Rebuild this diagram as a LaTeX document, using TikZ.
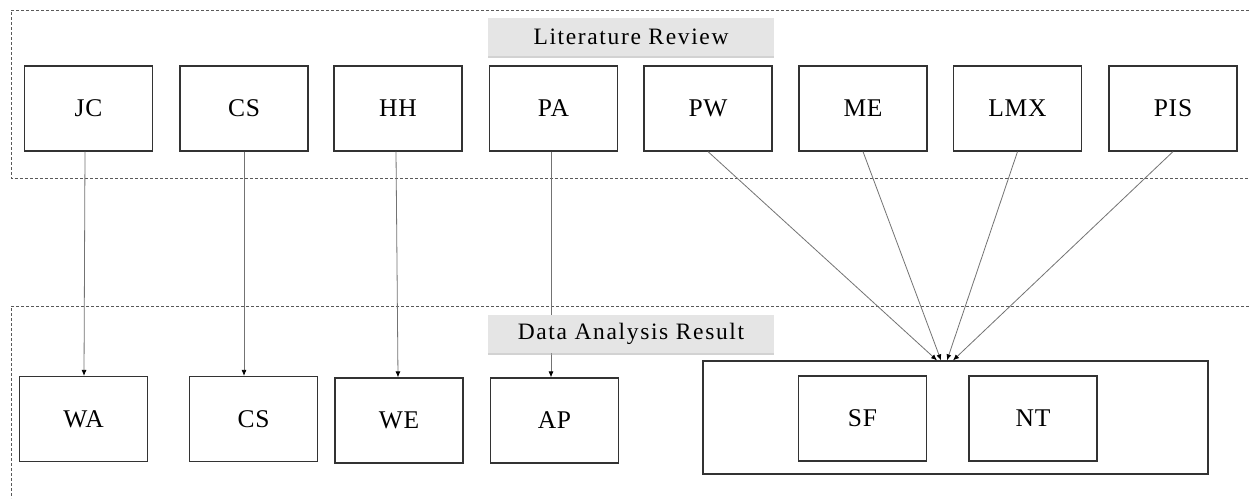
\documentclass[tikz,border=0pt]{standalone}
\usepackage{fontspec}
\setmainfont{Liberation Serif}
\newfontfamily\labfont[LetterSpace=7]{Liberation Serif}
\newfontfamily\boxfont[LetterSpace=3]{Liberation Serif}
\usetikzlibrary{arrows.meta,shadows}
\begin{document}
\begin{tikzpicture}[x=1pt,y=-1pt,
  box/.style={draw=black!80,line width=1.2pt,minimum width=128pt,minimum height=85pt,inner sep=0pt,font=\boxfont\fontsize{25.5}{25.5}\selectfont},
  group/.style={draw=black!80,line width=1.2pt,minimum width=505pt,minimum height=113pt,inner sep=0pt},
  lab/.style={fill=black!10,minimum width=286pt,minimum height=38pt,inner sep=0pt,font=\labfont\fontsize{23.5}{23.5}\selectfont,
    drop shadow={shadow xshift=0pt,shadow yshift=-2pt,fill=black!35,opacity=0.5}},
  frame/.style={draw=black!65,line width=0.8pt,dash pattern=on 3pt off 2pt},
  arr/.style={draw=black!55,line width=0.8pt,-{Latex[length=6pt,width=5pt,black]}}
]
\useasboundingbox (0,0) rectangle (1249,498);
\fill[white] (0,0) rectangle (1249,498);
% frames
\draw[frame] (1249,10) -- (11,10) -- (11,178) -- (1249,178);
\draw[frame] (1249,306) -- (11,306) -- (11,498);
% top row
\node[box] (JC)  at (88.5,108.5) {JC};
\node[box] (CS)  at (244,108.5) {CS};
\node[box] (HH)  at (398,108.5) {HH};
\node[box] (PA)  at (553.5,108.5) {PA};
\node[box] (PW)  at (708,108.5) {PW};
\node[box] (ME)  at (863,108.5) {ME};
\node[box] (LMX) at (1017.5,108.5) {LMX};
\node[box] (PIS) at (1173,108.5) {PIS};
% bottom row
\node[box] (WA)  at (83.5,419) {WA};
\node[box] (CSb) at (253.5,419) {CS};
\node[box] (WE)  at (399,420.5) {WE};
\node[box] (AP)  at (554.5,420.5) {AP};
\node[group] (G) at (955.5,417.5) {};
\node[box] (SF)  at (862.5,418.5) {SF};
\node[box] (NT)  at (1033,418.5) {NT};
% connectors
\draw[arr] ([xshift=-3.5pt]JC.south) -- ([xshift=0.5pt]WA.north);
\draw[arr] (CS.south) -- ([xshift=-9.5pt]CSb.north);
\draw[arr] ([xshift=-2pt]HH.south) -- ([xshift=-1pt]WE.north);
\draw[arr] ([xshift=-2.5pt]PA.south) -- ([xshift=-3.5pt]AP.north);
\draw[arr] (PW.south) -- ([xshift=-18.5pt]G.north);
\draw[arr] (ME.south) -- ([xshift=-14.5pt]G.north);
\draw[arr] (LMX.south) -- ([xshift=-8.5pt]G.north);
\draw[arr] (PIS.south) -- ([xshift=-2.5pt]G.north);
% labels
\node[lab] (LR) at (631,37) {Literature Review};
\node[lab] (DAR) at (631,334) {Data Analysis Result};
\end{tikzpicture}
\end{document}
